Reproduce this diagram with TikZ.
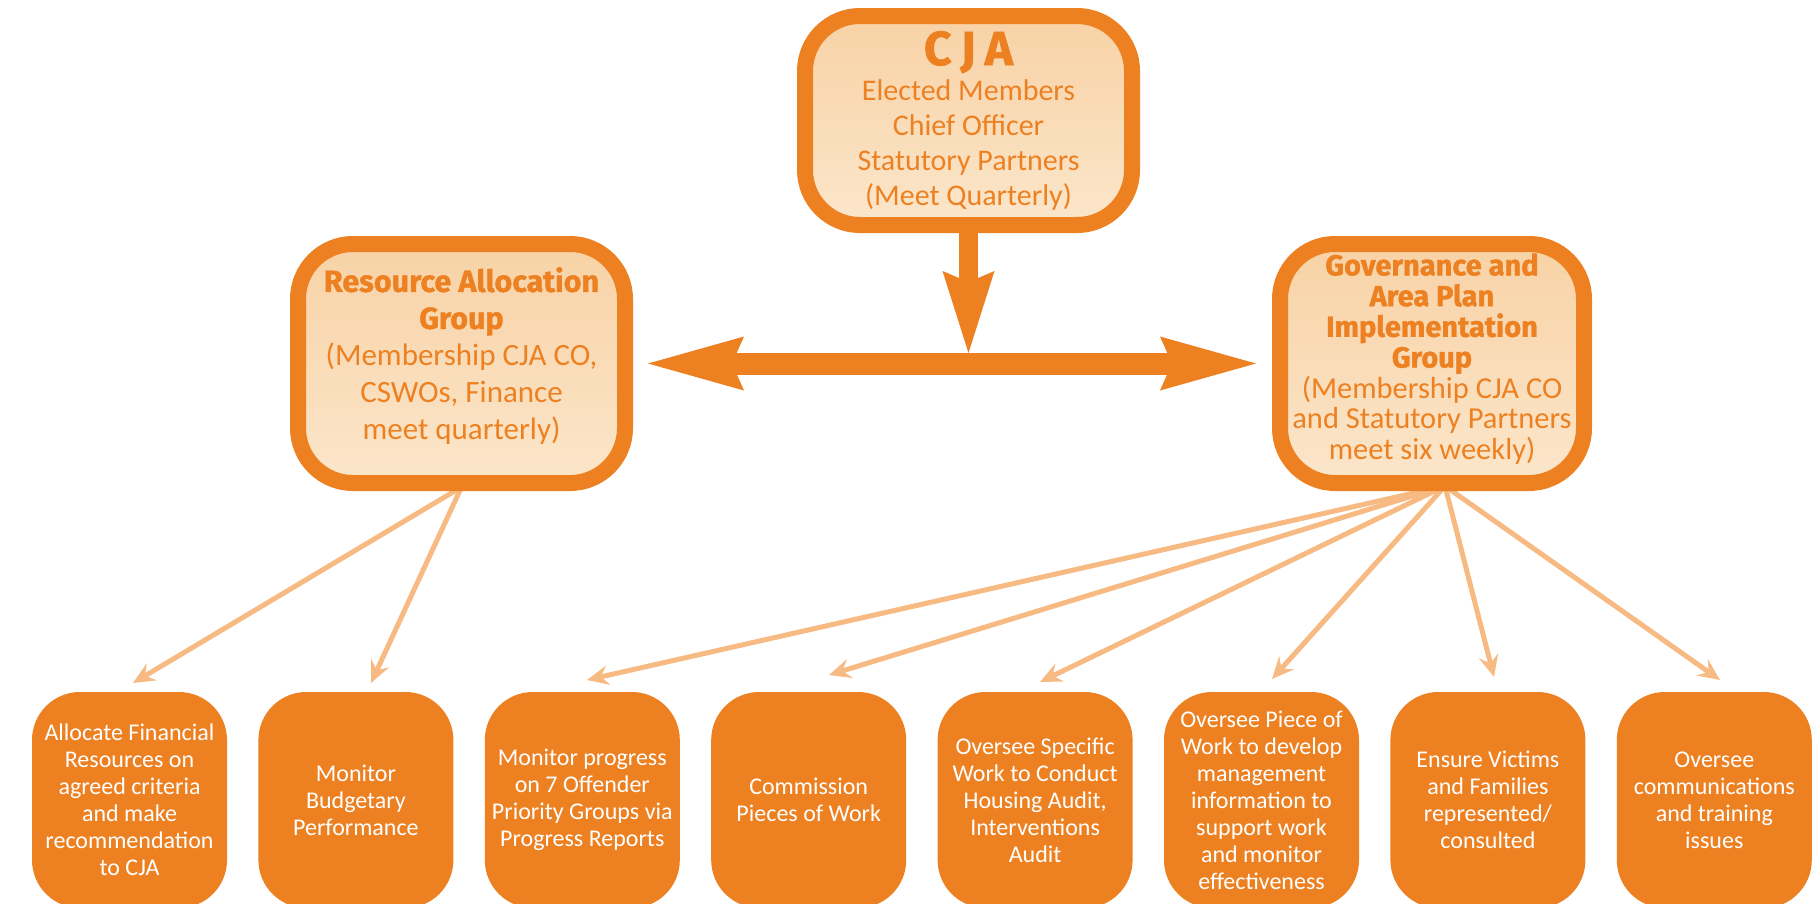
\documentclass[tikz,border=0pt]{standalone}
\usepackage{fontspec}
\setmainfont{Carlito}
\newfontfamily\headfont{Fira Sans}[BoldFeatures={FakeBold=1.2}]
\usetikzlibrary{arrows.meta}
\definecolor{org}{RGB}{237,129,34}
\definecolor{pale}{RGB}{246,186,130}
\definecolor{peachtop}{RGB}{248,210,166}
\definecolor{peachbot}{RGB}{251,230,202}
\pgfdeclarelayer{bg}
\pgfsetlayers{bg,main}
\tikzset{
  bigbox/.style={draw=org, line width=16pt, rounded corners=55pt,
    top color=peachtop, bottom color=peachbot, text=org, align=center, inner sep=0pt},
  smallbox/.style={fill=org, rounded corners=48pt, minimum width=195pt, minimum height=216pt,
    text=white, align=center, inner sep=0pt, font=\fontsize{24}{27}\selectfont},
  conn/.style={draw=pale, line width=5pt,
    -{Stealth[length=22pt,width=20pt,inset=8pt,line width=0pt]}},
  bigtip/.tip={Stealth[length=96pt,width=54pt,inset=12pt,line width=0pt]},
  downtip/.tip={Stealth[length=82pt,width=52pt,inset=11pt,line width=0pt]},
  bigarrow/.style={draw=org}
}
\begin{document}
\begin{tikzpicture}[x=1pt,y=-1pt]
\useasboundingbox (0,0) rectangle (1820,903);
\clip (0,0) rectangle (1820,903);

% top boxes
\node[bigbox, minimum width=327pt, minimum height=209pt,
      font=\fontsize{30}{35}\selectfont] (cja) at (968.5,120.5)
  {{\headfont\bfseries\fontsize{48}{35}\selectfont C\hspace{9pt}J\hspace{9pt}A}\\
   Elected Members\\ Chief Officer\\ Statutory Partners\\ (Meet Quarterly)};

\node[bigbox, minimum width=327pt, minimum height=239pt, text depth=20pt,
      font=\fontsize{31}{37}\selectfont] (rag) at (461.5,363.5)
  {{\headfont\bfseries\fontsize{30.5}{37}\selectfont Resource Allocation}\\
   {\headfont\bfseries\fontsize{30.5}{37}\selectfont Group}\\
   (Membership CJA CO,\\ CSWOs, Finance\\ meet quarterly)};

\node[bigbox, minimum width=304pt, minimum height=239pt, text depth=14pt,
      font=\fontsize{30.5}{30.7}\selectfont] (gov) at (1432,363.5)
  {{\headfont\bfseries\fontsize{29}{30.7}\selectfont Governance and}\\
   {\headfont\bfseries\fontsize{29}{30.7}\selectfont Area Plan}\\
   {\headfont\bfseries\fontsize{29}{30.7}\selectfont Implementation}\\
   {\headfont\bfseries\fontsize{29}{30.7}\selectfont Group}\\
   (Membership CJA CO\\ and Statutory Partners\\ meet six weekly)};

% big arrows
\coordinate (mid) at (968.5,353);
\draw[bigarrow, line width=19pt, -{downtip}] (cja.south) -- (mid);
\draw[bigarrow, line width=22pt, {bigtip}-{bigtip}]
  ([xshift=15pt]rag.east) -- ([xshift=-16pt]gov.west);

% bottom boxes
\node[smallbox] (b1) at (129.5,800) {Allocate Financial\\Resources on\\agreed criteria\\and make\\recommendation\\to CJA};
\node[smallbox] (b2) at (355.9,800) {Monitor\\Budgetary\\Performance};
\node[smallbox] (b3) at (582.3,800) {Monitor progress\\on 7 Offender\\Priority Groups via\\Progress Reports};
\node[smallbox] (b4) at (808.7,800) {Commission\\Pieces of Work};
\node[smallbox] (b5) at (1035.1,800) {Oversee Specific\\Work to Conduct\\Housing Audit,\\Interventions\\Audit};
\node[smallbox] (b6) at (1261.5,800) {Oversee Piece of\\Work to develop\\management\\information to\\support work\\and monitor\\effectiveness};
\node[smallbox] (b7) at (1487.9,800) {Ensure Victims\\and Families\\represented/\\consulted};
\node[smallbox] (b8) at (1714.3,800) {Oversee\\communications\\and training\\issues};

% connector ends
\coordinate (rsrc) at ([yshift=4pt]rag.south);
\coordinate (gsrc) at ([xshift=13pt,yshift=5pt]gov.south);
\coordinate (t1) at (133,683);
\coordinate (t2) at (371,683);
\coordinate (t3) at (587,680);
\coordinate (t4) at (829,675);
\coordinate (t5) at (1040,682);
\coordinate (t6) at (1272,679);
\coordinate (t7) at (1494,677);
\coordinate (t8) at (1720,680);

\begin{pgfonlayer}{bg}
  \draw[conn] (rsrc) -- (t1);
  \draw[conn] (rsrc) -- (t2);
  \draw[conn] (gsrc) -- (t3);
  \draw[conn] (gsrc) -- (t4);
  \draw[conn] (gsrc) -- (t5);
  \draw[conn] (gsrc) -- (t6);
  \draw[conn] (gsrc) -- (t7);
  \draw[conn] (gsrc) -- (t8);
\end{pgfonlayer}
\end{tikzpicture}
\end{document}
